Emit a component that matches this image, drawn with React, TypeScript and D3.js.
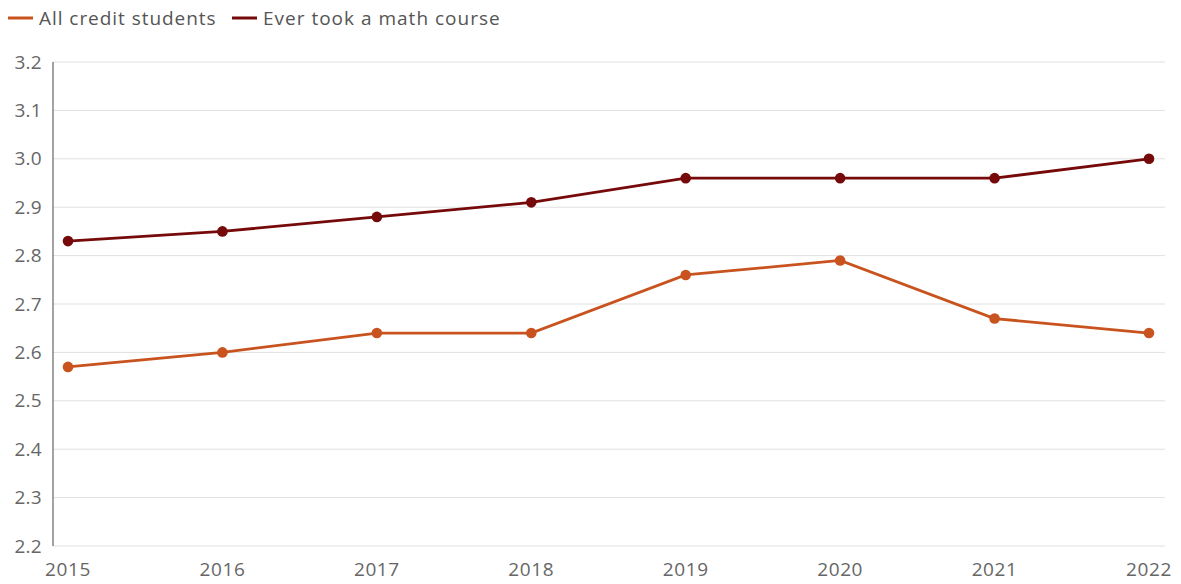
import React from "react";
import * as d3 from "d3";

const years = [2015, 2016, 2017, 2018, 2019, 2020, 2021, 2022];
const allCredit = [2.57, 2.6, 2.64, 2.64, 2.76, 2.79, 2.67, 2.64];
const mathCourse = [2.83, 2.85, 2.88, 2.91, 2.96, 2.96, 2.96, 3.0];
const yTicks = [2.2, 2.3, 2.4, 2.5, 2.6, 2.7, 2.8, 2.9, 3.0, 3.1, 3.2];
const seriesNames = ["All credit students", "Ever took a math course"];
const colors = ["#c8531e", "#760a0a"];

export default function App() {
  const W = 1181, H = 584;
  const x = d3.scaleLinear().domain([2015, 2022]).range([68, 1149]);
  const y = d3.scaleLinear().domain([2.2, 3.2]).range([546, 62]);
  const line = d3.line<[number, number]>().x(d => x(d[0])).y(d => y(d[1]));
  const series = [allCredit, mathCourse];
  const font = "'Open Sans', Lato, sans-serif";
  return (
    <svg width={W} height={H} style={{ position: "absolute", left: 0, top: 0 }} fontFamily={font}>
      <rect width={W} height={H} fill="#fff" />
      {yTicks.map(t => (
        <g key={t}>
          <line x1={53} x2={1165} y1={y(t)} y2={y(t)} stroke="#e0e0e0" strokeWidth={1} />
          <text x={42} y={y(t)} dy="0.35em" textAnchor="end" fontSize={19} letterSpacing={0.3} fill="#666">{t.toFixed(1)}</text>
        </g>
      ))}
      <line x1={53} x2={53} y1={62} y2={546} stroke="#666" strokeWidth={1.2} />
      {years.map(yr => (
        <text key={yr} x={x(yr)} y={569} dy="0.35em" textAnchor="middle" fontSize={19} letterSpacing={0.6} fill="#666">{yr}</text>
      ))}
      {series.map((s, i) => (
        <g key={i}>
          <path d={line(years.map((yr, j) => [yr, s[j]]) as [number, number][]) || ""} fill="none" stroke={colors[i]} strokeWidth={2.8} />
          {years.map((yr, j) => (
            <circle key={yr} cx={x(yr)} cy={y(s[j])} r={5.3} fill={colors[i]} />
          ))}
        </g>
      ))}
      <g>
        <line x1={8} x2={33} y1={18} y2={18} stroke={colors[0]} strokeWidth={3} />
        <text x={39} y={18} dy="0.35em" fontSize={19} letterSpacing={0.95} fill="#555">{seriesNames[0]}</text>
        <line x1={232} x2={257} y1={18} y2={18} stroke={colors[1]} strokeWidth={3} />
        <text x={263} y={18} dy="0.35em" fontSize={19} letterSpacing={1.0} fill="#555">{seriesNames[1]}</text>
      </g>
    </svg>
  );
}
